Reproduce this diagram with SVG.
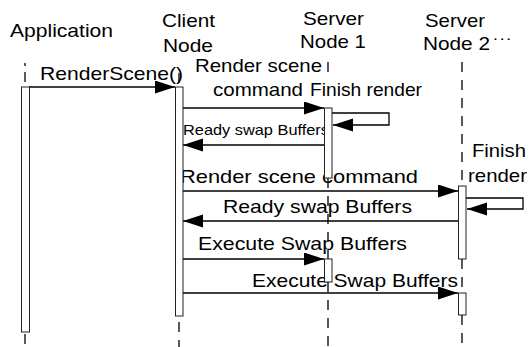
<svg xmlns="http://www.w3.org/2000/svg" width="530" height="347" viewBox="0 0 530 347">
  <style>
    text { font-family: "Liberation Sans", Arial, sans-serif; fill: #000; }
    .hdr { font-size: 19px; }
    .lbl { font-size: 19px; }
    .sml { font-size: 15px; }
    .life { stroke: #000; stroke-width: 1.3; stroke-dasharray: 10 8; fill: none; }
    .bar { fill: #fff; stroke: #222; stroke-width: 1; }
    .msg { stroke: #000; stroke-width: 1.3; fill: none; marker-end: url(#head); }
  </style>
  <defs>
    <marker id="head" markerUnits="userSpaceOnUse" markerWidth="21" markerHeight="14" refX="20" refY="6.5" orient="auto">
      <path d="M0,0 L20,6.5 L0,13 Z" fill="#000"/>
    </marker>
  </defs>
  <rect width="530" height="347" fill="#fff"/>

  <!-- messages and their labels -->
  <g id="connectors">
    <text class="lbl" x="40" y="80" textLength="143" lengthAdjust="spacingAndGlyphs">RenderScene()</text>
    <line class="msg" x1="29" y1="87" x2="175" y2="87"/>

    <text class="lbl" x="195" y="72" textLength="127" lengthAdjust="spacingAndGlyphs">Render scene</text>
    <text class="lbl" x="213" y="96" textLength="90" lengthAdjust="spacingAndGlyphs">command</text>
    <line class="msg" x1="183" y1="108" x2="324" y2="108"/>

    <text class="lbl" x="310" y="96" textLength="112" lengthAdjust="spacingAndGlyphs">Finish render</text>
    <polyline class="msg" points="332,113 389,113 389,125 333,125"/>

    <text class="sml" x="183" y="135" textLength="146" lengthAdjust="spacingAndGlyphs">Ready swap Buffers</text>
    <line class="msg" x1="324" y1="145" x2="183" y2="145"/>

    <text class="lbl" x="180" y="183" textLength="238" lengthAdjust="spacingAndGlyphs">Render scene command</text>
    <line class="msg" x1="183" y1="191" x2="458" y2="191"/>

    <text class="lbl" x="472" y="157" textLength="54" lengthAdjust="spacingAndGlyphs">Finish</text>
    <text class="lbl" x="468" y="182" textLength="59" lengthAdjust="spacingAndGlyphs">render</text>
    <polyline class="msg" points="466,198 523,198 523,209 467,209"/>

    <text class="lbl" x="223" y="213" textLength="189" lengthAdjust="spacingAndGlyphs">Ready swap Buffers</text>
    <line class="msg" x1="458" y1="221" x2="183" y2="221"/>

    <text class="lbl" x="198" y="250" textLength="209" lengthAdjust="spacingAndGlyphs">Execute Swap Buffers</text>
    <line class="msg" x1="183" y1="259" x2="324" y2="259"/>

    <text class="lbl" x="252" y="287" textLength="206" lengthAdjust="spacingAndGlyphs">Execute Swap Buffers</text>
    <line class="msg" x1="183" y1="293" x2="458" y2="293"/>
  </g>

  <!-- lifelines -->
  <g id="application">
    <text class="hdr" x="10" y="37" textLength="103" lengthAdjust="spacingAndGlyphs">Application</text>
    <line class="life" x1="25" y1="63" x2="25" y2="66"/>
    <line class="life" x1="25" y1="72" x2="25" y2="87"/>
    <line class="life" x1="25" y1="334" x2="25" y2="347"/>
    <rect class="bar" x="21.5" y="87" width="8" height="245"/>
  </g>

  <g id="client-node">
    <text class="hdr" x="162" y="27" textLength="53" lengthAdjust="spacingAndGlyphs">Client</text>
    <text class="hdr" x="163" y="52" textLength="50" lengthAdjust="spacingAndGlyphs">Node</text>
    <line class="life" x1="179" y1="73" x2="179" y2="87"/>
    <line class="life" x1="179" y1="322" x2="179" y2="347"/>
    <rect class="bar" x="175.5" y="87" width="7.5" height="229"/>
  </g>

  <g id="server-node-1">
    <text class="hdr" x="303" y="25" textLength="61" lengthAdjust="spacingAndGlyphs">Server</text>
    <text class="hdr" x="300" y="48" textLength="66" lengthAdjust="spacingAndGlyphs">Node 1</text>
    <line class="life" x1="328" y1="62" x2="328" y2="73"/>
    <line class="life" x1="328" y1="178" x2="328" y2="259"/>
    <line class="life" x1="328" y1="282" x2="328" y2="347"/>
    <rect class="bar" x="324.5" y="108" width="7.5" height="70"/>
    <rect class="bar" x="324.5" y="259" width="7.5" height="23"/>
  </g>

  <g id="server-node-2">
    <text class="hdr" x="425" y="27" textLength="60" lengthAdjust="spacingAndGlyphs">Server</text>
    <text class="hdr" x="423" y="50" textLength="67" lengthAdjust="spacingAndGlyphs">Node 2</text>
    <text class="hdr" x="493" y="52" textLength="20" lengthAdjust="spacingAndGlyphs">˙˙˙</text>
    <line class="life" x1="462" y1="62" x2="462" y2="186"/>
    <line class="life" x1="462" y1="259" x2="462" y2="293"/>
    <line class="life" x1="462" y1="315" x2="462" y2="347"/>
    <rect class="bar" x="458.5" y="186" width="7.5" height="73"/>
    <rect class="bar" x="458.5" y="293" width="7.5" height="22"/>
  </g>
</svg>
